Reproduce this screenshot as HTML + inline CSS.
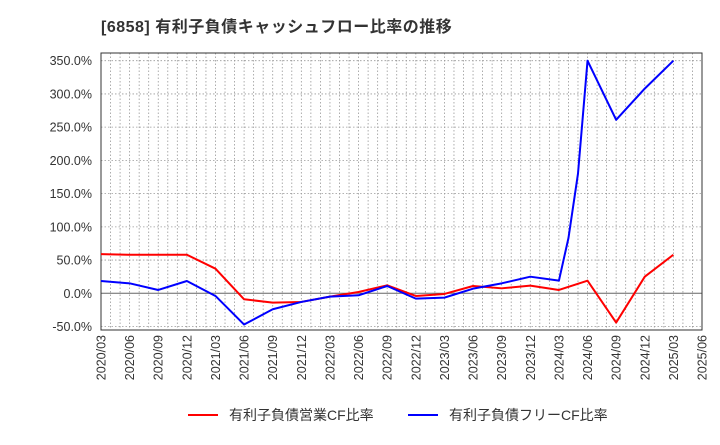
<!DOCTYPE html>
<html><head><meta charset="utf-8"><style>
body{margin:0;background:#fff;width:720px;height:440px;overflow:hidden;font-family:"Liberation Sans","Noto Sans CJK JP",sans-serif}
</style></head><body>
<svg id="c" width="720" height="440" xmlns="http://www.w3.org/2000/svg">
<text x="101" y="32" font-size="16" font-weight="bold" fill="#333" letter-spacing="0.5" font-family="Liberation Sans,Noto Sans CJK JP,sans-serif">[6858]  有利子負債キャッシュフロー比率の推移</text>
<g id="grid"></g><g id="axes"></g><g id="series"></g>
<g>
<line x1="188" y1="415" x2="218" y2="415" stroke="#f00" stroke-width="2"/>
<text x="229" y="420" font-size="14" fill="#333">有利子負債営業CF比率</text>
<line x1="408" y1="415" x2="438" y2="415" stroke="#00f" stroke-width="2"/>
<text x="449" y="420" font-size="14" fill="#333">有利子負債フリーCF比率</text>
</g>
</svg>
<script>
const xLabels=["2020/03","2020/06","2020/09","2020/12","2021/03","2021/06","2021/09","2021/12","2022/03","2022/06","2022/09","2022/12","2023/03","2023/06","2023/09","2023/12","2024/03","2024/06","2024/09","2024/12","2025/03","2025/06"];
const yTicks=[-50,0,50,100,150,200,250,300,350];
const redMonths=[0,3,6,9,12,15,18,21,24,27,30,33,36,39,42,45,48,51,54,57,60];
const redValues=[59,58,58,58,37,-9,-14,-13,-5,2,12,-4,-1,11,7.5,11.5,5,19,-44,25,58];
const blueMonths=[0,3,6,9,12,15,18,21,24,27,30,33,36,39,42,45,48,49,50,51,54,57,60];
const blueValues=[18.5,15,5,18.5,-4,-47,-24,-13,-5,-3,11,-8,-6.5,7,15,25,19,83,180,350,261,308,350];
const NS="http://www.w3.org/2000/svg";
const X0=101,X1=702,Y0=53,Y1=330,NM=63;
const xs=m=>X0+(X1-X0)*m/NM;
const ys=v=>293.3-v*0.6646;
function mk(t,a,p){const e=document.createElementNS(NS,t);for(const k in a)e.setAttribute(k,a[k]);p.appendChild(e);return e;}
const grid=document.getElementById('grid'),axes=document.getElementById('axes'),ser=document.getElementById('series');
for(let m=1;m<NM;m++){const l=mk('line',{x1:xs(m),x2:xs(m),y1:Y0,y2:Y1,stroke:'#999','stroke-width':0.8,'stroke-dasharray':'1.5,2'},grid);

}
yTicks.forEach(v=>{const l=mk('line',{x1:X0,x2:X1,y1:ys(v),y2:ys(v),stroke:v===0?'#666':'#999','stroke-width':v===0?1:0.8,'stroke-dasharray':v===0?'':'1.5,2'},grid);


const t=mk('text',{x:92,y:ys(v)+4.5,'text-anchor':'end','font-size':12.5,fill:'#333'},axes);t.textContent=v.toFixed(1)+'%';

});
const fr=mk('rect',{x:X0,y:Y0,width:X1-X0,height:Y1-Y0,fill:'none',stroke:'#333','stroke-width':1},axes);


xLabels.forEach((s,i)=>{const x=xs(i*3);const t=mk('text',{x:0,y:0,transform:`translate(${x+4.5},335) rotate(-90)`,'text-anchor':'end','font-size':12.5,fill:'#333'},axes);t.textContent=s;

});
function line(ms,vs,c,n){const p=mk('polyline',{points:ms.map((m,i)=>xs(m)+','+ys(vs[i])).join(' '),fill:'none',stroke:c,'stroke-width':2,'stroke-linejoin':'round'},ser);

}
line(redMonths,redValues,'#f00','operating-cf-ratio-line');
line(blueMonths,blueValues,'#00f','free-cf-ratio-line');
</script>
</body></html>
